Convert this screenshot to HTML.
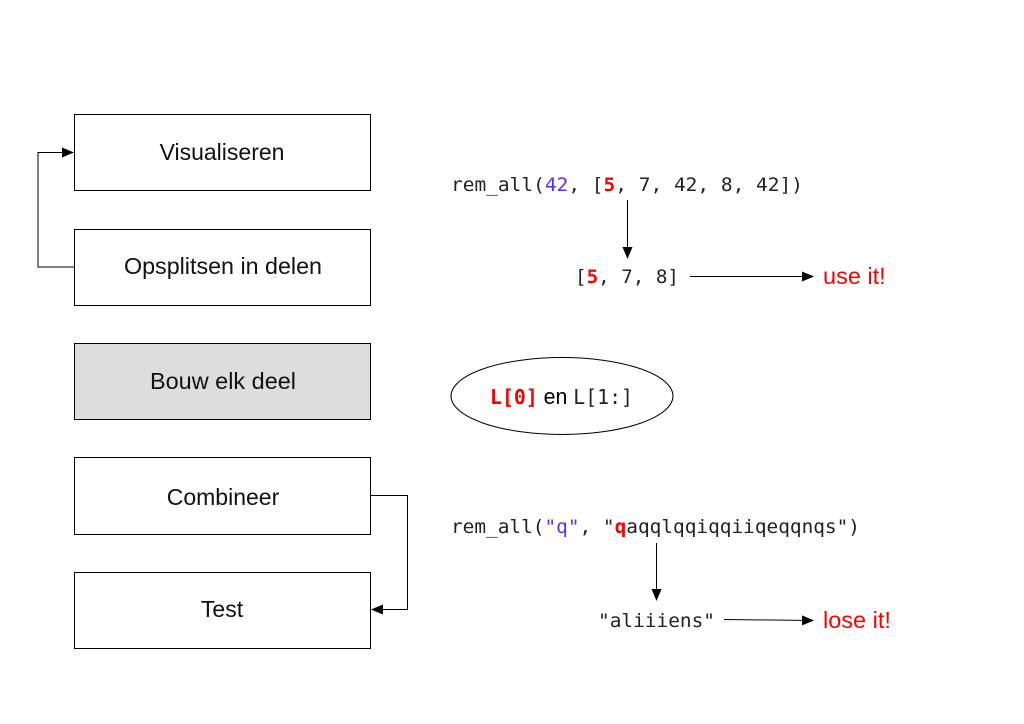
<!DOCTYPE html>
<html><head><meta charset="utf-8"><style>html,body{margin:0;padding:0;background:#fff}svg{display:block}</style></head>
<body>
<svg width="1024" height="724" viewBox="0 0 1024 724" xmlns="http://www.w3.org/2000/svg">
<defs>
<marker id="a" markerWidth="12" markerHeight="10" refX="11" refY="5" orient="auto" markerUnits="userSpaceOnUse"><path d="M0,0 L12,5 L0,10 z" fill="#000"/></marker>
</defs>
<g fill="#fff" stroke="#000" stroke-width="1">
<rect x="74.5" y="114.5" width="296" height="76"/>
<rect x="74.5" y="229.5" width="296" height="76"/>
<rect x="74.5" y="343.5" width="296" height="76" fill="#dddddd"/>
<rect x="74.5" y="457.5" width="296" height="77"/>
<rect x="74.5" y="572.5" width="296" height="76"/>
</g>
<g font-family="Liberation Sans, sans-serif" font-size="23" text-anchor="middle" fill="#111">
<text x="222" y="160">Visualiseren</text>
<text x="223" y="274" textLength="198" lengthAdjust="spacingAndGlyphs">Opsplitsen in delen</text>
<text x="223" y="389" textLength="146" lengthAdjust="spacingAndGlyphs">Bouw elk deel</text>
<text x="223" y="505">Combineer</text>
<text x="222" y="617">Test</text>
</g>
<g fill="none" stroke="#000" stroke-width="1">
<polyline points="74,267 38,267 38,152.5 73,152.5" marker-end="url(#a)"/>
<polyline points="371,495.5 407.5,495.5 407.5,609.5 372,609.5" marker-end="url(#a)"/>
<line x1="627.5" y1="200" x2="627.5" y2="258" marker-end="url(#a)"/>
<line x1="690" y1="276.5" x2="813" y2="276.5" marker-end="url(#a)"/>
<line x1="656.5" y1="543" x2="656.5" y2="600" marker-end="url(#a)"/>
<line x1="724" y1="619.5" x2="813" y2="620.5" marker-end="url(#a)"/>
<ellipse cx="562" cy="396" rx="111" ry="38.5"/>
</g>
<g font-family="DejaVu Sans Mono, Liberation Mono, monospace" font-size="19" fill="#222">
<text x="451" y="191" textLength="352" lengthAdjust="spacingAndGlyphs">rem_all(<tspan fill="#5a2dff">42</tspan>, [<tspan fill="#f00" font-weight="bold">5</tspan>, 7, 42, 8, 42])</text>
<text x="575" y="283" textLength="104" lengthAdjust="spacingAndGlyphs">[<tspan fill="#f00" font-weight="bold">5</tspan>, 7, 8]</text>
<text x="451" y="533" textLength="409" lengthAdjust="spacingAndGlyphs">rem_all(<tspan fill="#5a2dff">"q"</tspan>, "<tspan fill="#f00" font-weight="bold">q</tspan>aqqlqqiqqiiqeqqnqs")</text>
<text x="598" y="627" textLength="117" lengthAdjust="spacingAndGlyphs">"aliiiens"</text>
<text x="490" y="404" font-size="20.5" textLength="143" lengthAdjust="spacingAndGlyphs"><tspan fill="#f00" font-weight="bold">L[0]</tspan><tspan font-family="Liberation Sans, sans-serif" font-size="22" fill="#000"> en </tspan>L[1:]</text>
</g>
<g font-family="Liberation Sans, sans-serif" font-size="23.5" fill="#f00">
<text x="823" y="284">use it!</text>
<text x="823" y="628">lose it!</text>
</g>
</svg>
</body></html>
